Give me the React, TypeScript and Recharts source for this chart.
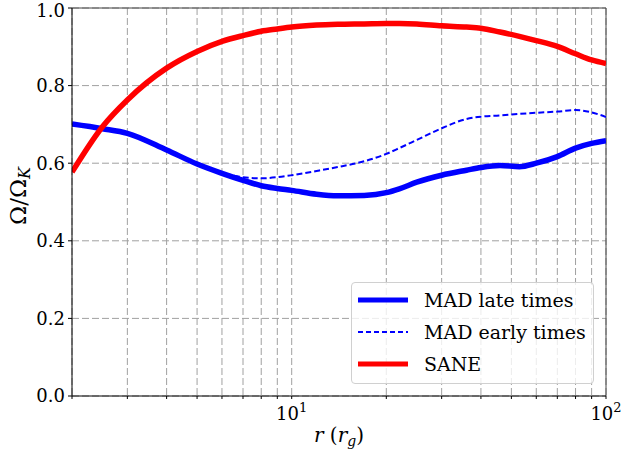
import {
  LineChart,
  Line,
  XAxis,
  YAxis,
  CartesianGrid,
  ReferenceLine,
  Legend,
} from "recharts";

// radius in gravitational radii, sampled on a log grid
const radius = [
  2, 2.5, 3, 4, 5, 6, 7, 8, 9, 10, 12, 14, 17, 20, 22, 25, 30, 36, 40, 46, 53,
  60, 70, 80, 90, 100,
];

// Omega / Omega_K profiles
const madLate = [
  0.701, 0.689, 0.677, 0.634, 0.598, 0.574, 0.556, 0.542, 0.535, 0.53, 0.52,
  0.516, 0.517, 0.524, 0.534, 0.551, 0.569, 0.582, 0.589, 0.594, 0.591, 0.6,
  0.617, 0.639, 0.651, 0.658,
];
const madEarly = [
  0.701, 0.689, 0.677, 0.634, 0.598, 0.575, 0.564, 0.561, 0.564, 0.569, 0.58,
  0.59, 0.605, 0.624, 0.639, 0.66, 0.69, 0.714, 0.72, 0.723, 0.727, 0.73,
  0.733, 0.737, 0.731, 0.719,
];
const sane = [
  0.577, 0.694, 0.763, 0.845, 0.888, 0.914, 0.929, 0.94, 0.946, 0.951, 0.956,
  0.958, 0.959, 0.96, 0.96, 0.959, 0.954, 0.951, 0.948, 0.938, 0.927, 0.916,
  0.901, 0.882, 0.866, 0.857,
];

// minor + major gridlines along r, and the labelled decades
const radiusTicks = [2, 3, 4, 5, 6, 7, 8, 9, 10, 20, 30, 40, 50, 60, 70, 80, 90, 100];
const decadeLabels = [
  { value: 10, exp: "1" },
  { value: 100, exp: "2" },
];
const omegaTicks = [0, 0.2, 0.4, 0.6, 0.8, 1.0];

const legendItems = [
  { label: "MAD late times", color: "#0000ff", width: 5, dash: undefined },
  { label: "MAD early times", color: "#0000ff", width: 2, dash: "5 3" },
  { label: "SANE", color: "#ff0000", width: 5, dash: undefined },
];

const data = radius.map((r, i) => ({
  r,
  madLate: madLate[i],
  madEarly: madEarly[i],
  sane: sane[i],
}));

const FONT = "DejaVu Serif";

const XTick = (props: any) => {
  const { x, y, payload } = props;
  const dec = decadeLabels.find((d) => d.value === payload.value);
  if (!dec) return <g />;
  return (
    <text x={x} y={y + 19} textAnchor="middle" fontFamily={FONT} fontSize={18} fill="#000">
      10
      <tspan dy={-8} fontSize={13}>
        {dec.exp}
      </tspan>
    </text>
  );
};

const YLabel = (props: any) => {
  const { viewBox } = props;
  const x = viewBox.x + 14;
  const y = viewBox.y + viewBox.height / 2 - 6;
  return (
    <text
      x={x}
      y={y}
      transform={`rotate(-90, ${x}, ${y})`}
      textAnchor="middle"
      fontFamily={FONT}
      fontSize={23}
      fill="#000"
    >
      Ω/Ω
      <tspan fontStyle="italic" fontSize={16} dy={4}>
        K
      </tspan>
    </text>
  );
};

const XLabel = (props: any) => {
  const { viewBox } = props;
  const x = viewBox.x + viewBox.width / 2;
  const y = viewBox.y + 46;
  return (
    <text x={x} y={y} textAnchor="middle" fontFamily={FONT} fontSize={20} fill="#000">
      <tspan fontStyle="italic">r</tspan> (
      <tspan fontStyle="italic">r</tspan>
      <tspan fontStyle="italic" fontSize={14} dy={4}>
        g
      </tspan>
      <tspan dy={-4}>)</tspan>
    </text>
  );
};

const renderLegend = () => (
  <div
    style={{
      boxSizing: "border-box",
      width: 243,
      height: 102,
      background: "rgba(255,255,255,0.8)",
      border: "1px solid #d0d0d0",
      borderRadius: 4,
      fontFamily: FONT,
      fontSize: 19,
      paddingTop: 1,
    }}
  >
    {legendItems.map((item) => (
      <div
        key={item.label}
        style={{ display: "flex", alignItems: "center", height: 32 }}
      >
        <svg width={72} height={32} style={{ flex: "none" }}>
          <line
            x1={6}
            x2={56}
            y1={16}
            y2={16}
            stroke={item.color}
            strokeWidth={item.width}
            strokeDasharray={item.dash}
          />
        </svg>
        <span style={{ lineHeight: "32px", whiteSpace: "nowrap" }}>{item.label}</span>
      </div>
    ))}
  </div>
);

export default function App() {
  return (
    <div style={{ position: "absolute", left: 0, top: 0, background: "#fff" }}>
      <LineChart
        width={621}
        height={454}
        data={data}
        margin={{ top: 8, right: 15, bottom: 0, left: 12 }}
        style={{ fontFamily: FONT }}
      >
        <CartesianGrid stroke="#a0a0a0" strokeDasharray="7 3" />
        <XAxis
          dataKey="r"
          type="number"
          scale="log"
          domain={[2, 100]}
          ticks={radiusTicks}
          interval={0}
          height={58}
          tick={<XTick />}
          tickSize={3}
          tickLine={{ stroke: "#000" }}
          axisLine={{ stroke: "#000" }}
          allowDataOverflow
          label={<XLabel />}
        />
        <YAxis
          type="number"
          domain={[0, 1]}
          ticks={omegaTicks}
          width={60}
          tickFormatter={(v: number) => v.toFixed(1)}
          tick={{ fill: "#000", fontSize: 18, fontFamily: FONT }}
          tickSize={4}
          tickMargin={3}
          tickLine={{ stroke: "#000" }}
          axisLine={{ stroke: "#000" }}
          label={<YLabel />}
        />
        <ReferenceLine y={1} stroke="#444" />
        <ReferenceLine x={100} stroke="#444" />
        <Line
          type="monotone"
          dataKey="madLate"
          stroke="#0000ff"
          strokeWidth={5.5}
          dot={false}
          isAnimationActive={false}
        />
        <Line
          type="monotone"
          dataKey="madEarly"
          stroke="#0000ff"
          strokeWidth={2}
          strokeDasharray="6 3"
          dot={false}
          isAnimationActive={false}
        />
        <Line
          type="monotone"
          dataKey="sane"
          stroke="#ff0000"
          strokeWidth={5.5}
          dot={false}
          isAnimationActive={false}
        />
        <Legend
          layout="vertical"
          align="center"
          verticalAlign="middle"
          content={renderLegend}
          wrapperStyle={{ left: 351, top: 282, width: 243, height: 102 }}
        />
      </LineChart>
    </div>
  );
}
